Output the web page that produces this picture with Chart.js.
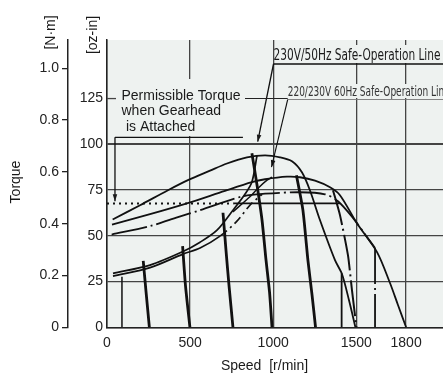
<!DOCTYPE html>
<html>
<head>
<meta charset="utf-8">
<script src="https://cdn.jsdelivr.net/npm/chart.js@4.4.1/dist/chart.umd.min.js"></script>
<style>
html, body { margin: 0; padding: 0; background: #fff; }
#wrap { width: 443px; height: 376px; position: relative; }
</style>
</head>
<body>
<div id="wrap"><canvas id="TorqueChart"></canvas></div>
<script>
// Speed - torque characteristics (speed in r/min, torque in oz-in)
const speedTicks = [0, 500, 1000, 1500, 1800];
const ozinTicks = [0, 25, 50, 75, 100, 125];
const nmTicks = [0, 0.2, 0.4, 0.6, 0.8, 1.0];
const ozinPerNm = 141.612;

// motor curves at full voltage
const nat50Speed = [34, 199, 367, 487, 620, 722, 842, 951, 1041, 1113, 1173, 1221, 1282, 1372, 1414, 1456, 1495];
const nat50Torque = [58.9, 66.7, 74.9, 80.4, 85.6, 89.5, 92.9, 94.0, 92.9, 90.7, 84.7, 74.9, 58.5, 36.7, 29.1, 14.9, 0];
const nat60Speed = [30, 259, 481, 710, 872, 951, 1083, 1161, 1252, 1342, 1402, 1504, 1625, 1703, 1751, 1800];
const nat60Torque = [56.1, 61.8, 67.7, 74.6, 79.3, 80.9, 82.3, 82.0, 80.1, 76.5, 72.2, 56.9, 41.1, 24.2, 12.2, 0];

// 60 Hz limit (dash-dot) and its 1600 r/min stop
const limit60Speed = [28, 259, 427, 560, 818, 951, 1161, 1312, 1390, 1480, 1552, 1613];
const limit60Torque = [50.7, 55.3, 60.2, 64.0, 71.6, 73.0, 73.8, 72.7, 68.9, 59.8, 50.9, 43.3];
const stop1600Speed = [1613, 1613];
const stop1600Torque = [43.3, 0];

// safe-operation lines
const safe50Speed = [36, 259, 457, 560, 662, 758, 830, 872, 903];
const safe50Torque = [29.5, 34.0, 41.4, 46.5, 53.1, 64.0, 72.7, 79.4, 94.0];
const safe60Speed = [36, 259, 457, 560, 680, 782, 860, 933];
const safe60Torque = [28.0, 32.6, 40.0, 43.3, 49.8, 58.0, 66.7, 72.7];
const branchSpeed = [758, 860, 909, 963, 993];
const branchTorque = [63.1, 71.3, 76.0, 80.4, 82.0];

// permissible torque with gearhead
const gearTorque = 67.7;
const gearDotSpeed = [0, 760];
const gearLineSpeed = [760, 1402];

// speed limits
const stop1400Speed = [1412, 1412];
const stop1400Torque = [0, 29.6];
const min90Speed = [90, 90];
const min90Torque = [0, 27.6];

// set-speed curves
const set250Speed = [218, 235, 255];
const set250Torque = [36.3, 19.3, 0];
const set500Speed = [455, 472, 499];
const set500Torque = [44.4, 23.1, 0];
const set750Speed = [698, 716, 734, 758];
const set750Torque = [62.6, 42.2, 23.1, 0];
const set1000Speed = [872, 903, 933, 957, 978, 993];
const set1000Torque = [95.1, 77.6, 58.5, 36.7, 19.3, 0];
const set1250Speed = [1140, 1179, 1209, 1234, 1255];
const set1250Torque = [83.1, 64.0, 36.7, 17.6, 0];
const set1500Speed = [1360, 1402, 1450, 1474, 1501];
const set1500Torque = [74.9, 61.3, 39.4, 20.4, 0];

const plotBg = '#eef2f0';
const ink = '#111';
const gridInk = '#444';
const mainFont = "'Liberation Sans', Arial, sans-serif";
const narrowFont = "'Liberation Sans Narrow', 'DejaVu Sans Condensed', sans-serif";
const dashDot = [36, 4, 2, 4];

function pts(xs, ys) {
    return xs.map((x, i) => ({ x: x, y: ys[i] }));
}

function line(xs, ys, width, extra) {
    return Object.assign({
        data: pts(xs, ys),
        borderColor: ink,
        borderWidth: width,
        pointRadius: 0,
        fill: false,
        tension: 0.3
    }, extra || {});
}

function fitText(ctx, text, x, y, width) {
    const w = ctx.measureText(text).width;
    ctx.save();
    ctx.translate(x, y);
    ctx.scale(width / w, 1);
    ctx.fillText(text, 0, 0);
    ctx.restore();
}

function arrow(ctx, x1, y1, x2, y2) {
    ctx.beginPath();
    ctx.moveTo(x1, y1);
    ctx.lineTo(x2, y2);
    ctx.stroke();
    const a = Math.atan2(y2 - y1, x2 - x1);
    const len = 7, half = 2.3;
    ctx.beginPath();
    ctx.moveTo(x2, y2);
    ctx.lineTo(x2 - len * Math.cos(a) + half * Math.sin(a), y2 - len * Math.sin(a) - half * Math.cos(a));
    ctx.lineTo(x2 - len * Math.cos(a) - half * Math.sin(a), y2 - len * Math.sin(a) + half * Math.cos(a));
    ctx.closePath();
    ctx.fill();
}

function vText(ctx, text, x, y) {
    ctx.save();
    ctx.translate(x, y);
    ctx.rotate(-Math.PI / 2);
    ctx.textAlign = 'center';
    ctx.textBaseline = 'middle';
    ctx.fillText(text, 0, 0);
    ctx.restore();
}

const overlay = {
    id: 'overlay',
    beforeDraw(chart) {
        const ctx = chart.ctx, a = chart.chartArea;
        ctx.save();
        ctx.fillStyle = '#fff';
        ctx.fillRect(0, 0, chart.width, chart.height);
        ctx.fillStyle = plotBg;
        ctx.fillRect(a.left, a.top, a.right - a.left, a.bottom - a.top);
        ctx.restore();
    },
    beforeDatasetsDraw(chart) {
        const ctx = chart.ctx, a = chart.chartArea;
        const ys = chart.scales.y;
        ctx.save();
        // label boxes cover the grid
        ctx.fillStyle = plotBg;
        ctx.fillRect(117, 79, 130, 57);
        ctx.fillRect(275, 45, 168, 18);
        ctx.fillRect(288, 84, 155, 14);
        // short mark at 125
        ctx.strokeStyle = gridInk;
        ctx.lineWidth = 1.3;
        const y125 = ys.getPixelForValue(125);
        ctx.beginPath();
        ctx.moveTo(a.left, y125);
        ctx.lineTo(a.left + 9, y125);
        ctx.stroke();
        ctx.restore();
    },
    afterDraw(chart) {
        const ctx = chart.ctx;
        const xs = chart.scales.x, ys = chart.scales.y;
        const px = v => xs.getPixelForValue(v);
        const py = v => ys.getPixelForValue(v);
        ctx.save();
        ctx.fillStyle = '#1a1a1a';
        ctx.strokeStyle = ink;

        // axis titles
        ctx.font = '14px ' + mainFont;
        ctx.textAlign = 'center';
        ctx.textBaseline = 'middle';
        ctx.fillText('Speed  [r/min]', 264.5, 366.5);
        vText(ctx, 'Torque', 16.5, 182);
        vText(ctx, '[N·m]', 51, 32.5);
        vText(ctx, '[oz-in]', 93, 35);

        // permissible torque note
        ctx.textAlign = 'left';
        ctx.textBaseline = 'alphabetic';
        ctx.font = '14px ' + mainFont;
        ctx.fillText('Permissible Torque', 121.5, 99.5);
        ctx.fillText('when Gearhead', 121.5, 115);
        ctx.fillText('is Attached', 126, 130.5);
        ctx.lineWidth = 1.3;
        ctx.beginPath();
        ctx.moveTo(px(48), py(103.8));
        ctx.lineTo(px(818), py(103.8));
        ctx.stroke();
        arrow(ctx, px(48), py(103.8), px(48), py(68.9));

        // safe-operation labels
        ctx.font = '15px ' + narrowFont;
        fitText(ctx, '230V/50Hz Safe-Operation Line', 273.5, 60, 167);
        ctx.lineWidth = 1.3;
        ctx.beginPath();
        ctx.moveTo(273.5, 64);
        ctx.lineTo(443, 64);
        ctx.stroke();
        arrow(ctx, 273.5, 64, px(907), py(101.4));

        ctx.fillStyle = '#333';
        ctx.font = '13.5px ' + narrowFont;
        fitText(ctx, '220/230V 60Hz Safe-Operation Line', 287.7, 95.5, 162);
        ctx.strokeStyle = '#222';
        ctx.lineWidth = 1.2;
        ctx.beginPath();
        ctx.moveTo(245, 98.5);
        ctx.lineTo(287.7, 98.5);
        ctx.stroke();
        ctx.strokeStyle = '#777';
        ctx.lineWidth = 0.9;
        ctx.beginPath();
        ctx.moveTo(287.7, 99.5);
        ctx.lineTo(443, 99.5);
        ctx.stroke();
        ctx.strokeStyle = ink;
        ctx.fillStyle = ink;
        ctx.lineWidth = 1.1;
        arrow(ctx, 287.7, 99.5, px(990), py(87.5));
        ctx.restore();
    }
};

new Chart("TorqueChart", {
    type: "line",
    data: {
        datasets: [
            line(nat50Speed, nat50Torque, 1.8),
            line(nat60Speed, nat60Torque, 1.8),
            line(limit60Speed, limit60Torque, 1.8, { borderDash: dashDot }),
            line(stop1600Speed, stop1600Torque, 1.8, { borderDash: dashDot, tension: 0 }),
            line(safe50Speed, safe50Torque, 1.7),
            line(safe60Speed, safe60Torque, 1.7, {
                segment: { borderDash: c => c.p0DataIndex >= 4 ? [9, 4, 2, 4] : undefined }
            }),
            line(branchSpeed, branchTorque, 1.5),
            line(gearDotSpeed, gearDotSpeed.map(() => gearTorque), 2, { borderDash: [2, 4], tension: 0 }),
            line(gearLineSpeed, gearLineSpeed.map(() => gearTorque), 1.8, { tension: 0 }),
            line(stop1400Speed, stop1400Torque, 1.8, { tension: 0 }),
            line(min90Speed, min90Torque, 1.5, { tension: 0 }),
            line(set250Speed, set250Torque, 2.8, { tension: 0.2 }),
            line(set500Speed, set500Torque, 2.8, { tension: 0.2 }),
            line(set750Speed, set750Torque, 2.8, { tension: 0.2 }),
            line(set1000Speed, set1000Torque, 2.8, { tension: 0.2 }),
            line(set1250Speed, set1250Torque, 2.8, { tension: 0.2 }),
            line(set1500Speed, set1500Torque, 2.0, { tension: 0.2, borderDash: dashDot })
        ]
    },
    options: {
        responsive: true,
        maintainAspectRatio: false,
        animation: false,
        layout: { padding: { top: 40, right: 0, bottom: 0, left: 0 } },
        plugins: {
            legend: { display: false },
            tooltip: { enabled: false }
        },
        scales: {
            x: {
                type: 'linear',
                min: 0,
                max: 2022,
                afterBuildTicks: s => { s.ticks = speedTicks.map(v => ({ value: v })); },
                afterFit: s => { s.height = 48.7; },
                grid: { color: gridInk, lineWidth: 1.3, drawTicks: false },
                border: { color: '#222', width: 1.5 },
                ticks: {
                    color: '#222',
                    font: { family: mainFont, size: 14 },
                    padding: 7,
                    maxRotation: 0,
                    autoSkip: false,
                    callback: v => String(v)
                }
            },
            y: {
                position: 'left',
                weight: 0,
                min: 0,
                max: 157,
                afterBuildTicks: s => { s.ticks = ozinTicks.map(v => ({ value: v })); },
                afterFit: s => { s.width = 39; },
                grid: {
                    color: c => (c.tick && c.tick.value === 125) ? 'rgba(0,0,0,0)' : gridInk,
                    lineWidth: c => (c.tick && c.tick.value === 100) ? 2 : 1.3,
                    drawTicks: false
                },
                border: { color: '#222', width: 1.5 },
                ticks: {
                    color: '#222',
                    font: { family: mainFont, size: 14 },
                    padding: 4,
                    callback: v => String(v)
                }
            },
            y2: {
                position: 'left',
                weight: 1,
                min: 0,
                max: 157 / ozinPerNm,
                afterBuildTicks: s => { s.ticks = nmTicks.map(v => ({ value: v })); },
                afterFit: s => { s.width = 68; },
                grid: { drawOnChartArea: false, drawTicks: true, tickLength: 6, color: '#222', lineWidth: 1.3 },
                border: { color: '#222', width: 1.5 },
                ticks: {
                    color: '#222',
                    font: { family: mainFont, size: 14 },
                    padding: 3,
                    callback: v => v === 0 ? '0' : v.toFixed(1)
                }
            }
        }
    },
    plugins: [overlay]
});
</script>
</body>
</html>
